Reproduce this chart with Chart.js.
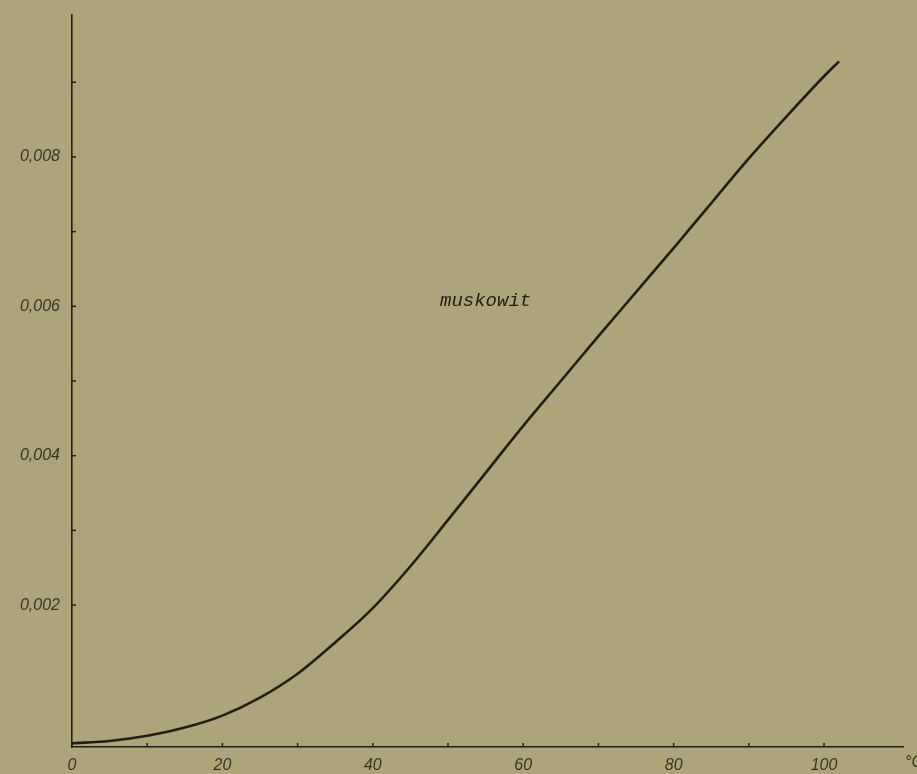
<!DOCTYPE html>
<html>
<head>
<meta charset="utf-8">
<script src="https://cdn.jsdelivr.net/npm/chart.js@4.4.1/dist/chart.umd.min.js"></script>
<style>
html, body { margin: 0; padding: 0; background: #aea479; }
#wrap { width: 917px; height: 774px; }
</style>
</head>
<body>
<div id="wrap"><canvas id="chart" width="917" height="774"></canvas></div>
<script>
// temperature in °C and the muskowit curve
var temperature = [0, 5, 10, 15, 20, 25, 30, 35, 40, 45, 50, 55, 60, 65, 70, 75, 80, 85, 90, 95, 100, 102];
var muskowit = [0.00015, 0.00018, 0.00025, 0.00036, 0.00052, 0.00076, 0.00108, 0.00150, 0.00196, 0.00252,
                0.00314, 0.00377, 0.00440, 0.00500, 0.00560, 0.00619, 0.00678, 0.00738, 0.00798, 0.00854,
                0.00908, 0.00928];

var xTicks = [0, 10, 20, 30, 40, 50, 60, 70, 80, 90, 100];
var xLabels = [0, 20, 40, 60, 80, 100];
var yTicks = [0.002, 0.003, 0.004, 0.005, 0.006, 0.007, 0.008, 0.009];
var yLabels = [0.002, 0.004, 0.006, 0.008];

var curveName = 'muskowit';
var curveLabelAt = [55, 0.00607];
var unitLabel = '°C';

var ink = '#221e14';
var labelInk = '#38342a';

function hasValue(list, v) {
    return list.some(function (l) { return Math.abs(l - v) < 1e-9; });
}

var plateMarks = {
    id: 'plateMarks',
    afterDraw: function (chart) {
        var ctx = chart.ctx;
        var x = chart.scales.x;
        var y = chart.scales.y;
        ctx.save();
        ctx.strokeStyle = ink;
        ctx.lineWidth = 1.5;
        // short tick marks pointing into the plot
        x.ticks.forEach(function (t) {
            var px = x.getPixelForValue(t.value);
            ctx.beginPath();
            ctx.moveTo(px, x.top);
            ctx.lineTo(px, x.top - 4);
            ctx.stroke();
        });
        y.ticks.forEach(function (t) {
            var py = y.getPixelForValue(t.value);
            ctx.beginPath();
            ctx.moveTo(y.right, py);
            ctx.lineTo(y.right + 4, py);
            ctx.stroke();
        });
        ctx.fillStyle = labelInk;
        ctx.font = 'italic 16px "Liberation Sans"';
        ctx.textAlign = 'left';
        ctx.textBaseline = 'middle';
        ctx.fillText(unitLabel, x.right + 2, x.top + 16);
        ctx.fillStyle = ink;
        ctx.font = 'italic 19px "Liberation Mono"';
        ctx.textAlign = 'center';
        ctx.fillText(curveName, x.getPixelForValue(curveLabelAt[0]), y.getPixelForValue(curveLabelAt[1]));
        ctx.restore();
    }
};

var ctx = document.getElementById('chart').getContext('2d');
var chart = new Chart(ctx, {
    type: 'line',
    data: {
        labels: temperature,
        datasets: [{
            label: curveName,
            data: temperature.map(function (t, i) { return { x: t, y: muskowit[i] }; }),
            borderColor: ink,
            borderWidth: 2.6,
            pointRadius: 0,
            fill: false,
            cubicInterpolationMode: 'monotone',
            clip: false
        }]
    },
    options: {
        responsive: false,
        animation: false,
        layout: { padding: { top: 15, right: 14, left: 0, bottom: 0 } },
        plugins: {
            legend: { display: false },
            tooltip: { enabled: false }
        },
        scales: {
            x: {
                type: 'linear',
                min: 0,
                max: 110.5,
                grid: { display: false, drawTicks: false },
                border: { display: true, color: ink, width: 1.6 },
                afterBuildTicks: function (scale) {
                    scale.ticks = xTicks.map(function (v) { return { value: v }; });
                },
                afterFit: function (scale) {
                    scale.height = 27;
                    scale.paddingLeft = 0;
                    scale.paddingRight = 0;
                },
                ticks: {
                    autoSkip: false,
                    maxRotation: 0,
                    padding: 9,
                    color: labelInk,
                    font: { family: 'Liberation Sans', size: 16, style: 'italic' },
                    callback: function (v) { return hasValue(xLabels, v) ? String(v) : ''; }
                }
            },
            y: {
                type: 'linear',
                min: 0.0001,
                max: 0.0099,
                grid: { display: false, drawTicks: false },
                border: { display: true, color: ink, width: 1.6 },
                afterBuildTicks: function (scale) {
                    scale.ticks = yTicks.map(function (v) { return { value: v }; });
                },
                afterFit: function (scale) {
                    scale.width = 72;
                    scale.paddingTop = 0;
                    scale.paddingBottom = 0;
                },
                ticks: {
                    autoSkip: false,
                    padding: 12,
                    color: labelInk,
                    font: { family: 'Liberation Sans', size: 16, style: 'italic' },
                    callback: function (v) {
                        return hasValue(yLabels, v) ? v.toFixed(3).replace('.', ',') : '';
                    }
                }
            }
        }
    },
    plugins: [plateMarks]
});
</script>
</body>
</html>
